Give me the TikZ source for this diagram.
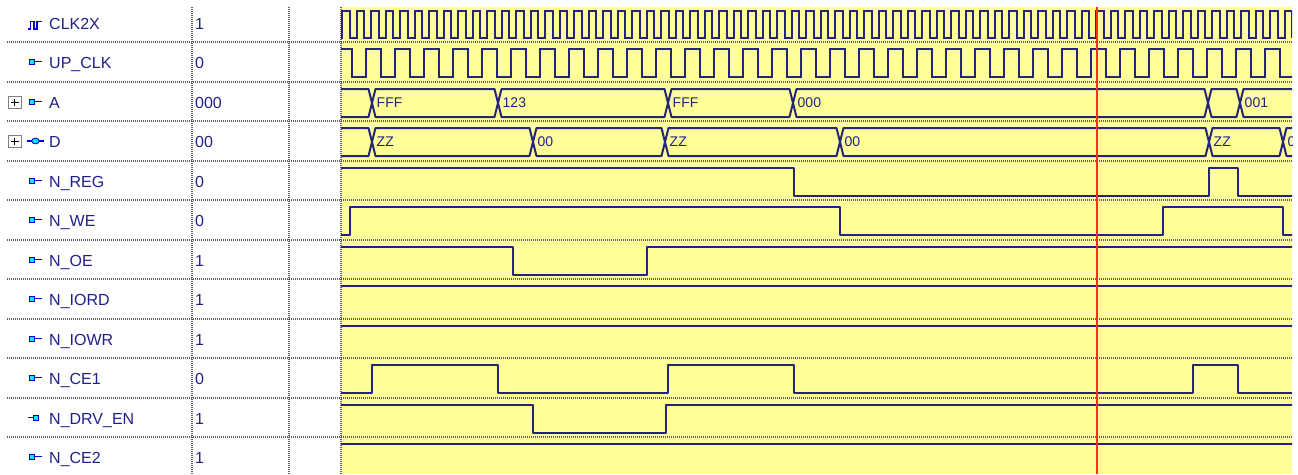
\documentclass[tikz,border=0pt]{standalone}
\usepackage{fontspec}
\setmainfont{Liberation Sans}
\usepackage{tikz}
\usetikzlibrary{positioning}
\usepackage{xcolor}
\definecolor{wavebg}{RGB}{255,255,153}
\definecolor{waveline}{RGB}{36,36,120}
\definecolor{labelblue}{RGB}{32,32,140}
\definecolor{portcyan}{RGB}{0,235,255}
\definecolor{portblue}{RGB}{0,0,215}
\definecolor{sepgray}{RGB}{95,95,95}
\definecolor{cursorred}{RGB}{255,45,25}
\newcommand{\busval}[4]{%
  \draw[wave] (#2,21) -- ({#2+3.5},7) -- ({#3-3.5},7) -- (#3,21) -- ({#3-3.5},35) -- ({#2+3.5},35) -- cycle;
  \node[buslbl] (#1#2) at ({#2+4.5},25) {#4};}

\begin{document}
\begin{tikzpicture}[x=1pt, y=-1pt,
  sigrow/.style={yshift={-round(2.5+39.5*#1)}},
  signame/.style={anchor=base west, inner sep=0pt, text=labelblue, font=\fontsize{16}{16}\selectfont},
  buslbl/.style={anchor=base west, inner sep=0pt, text=labelblue, font=\fontsize{14}{14}\selectfont},
  wave/.style={draw=waveline, line width=2pt, line join=round},
  sepline/.style={draw=sepgray, line width=2pt, dash pattern=on 1pt off 1pt},
  inport/.style={fill=portcyan, draw=portblue, line width=0.9pt},
  portwire/.style={draw=portblue, line width=1.3pt},
  expbox/.style={fill=white, draw=gray, line width=1pt},
  cursor/.style={draw=cursorred, line width=2pt}
]
\useasboundingbox (0,0) rectangle (1298,474);
\fill[white] (0,0) rectangle (1298,474);
\fill[wavebg] (341,7) rectangle (1292,474);

\foreach \i in {1,...,11} {
  \pgfmathsetmacro\yy{round(2.5+39.5*\i)}
  \draw[sepline] (7,\yy) -- (1292,\yy);
}
\foreach \xx in {192,289,341}
  \draw[sepline] (\xx,7) -- (\xx,474);

\foreach \nm/\val [count=\i from 0] in {CLK2X/1, UP\_CLK/0, A/000, D/00, N\_REG/0, N\_WE/0,
    N\_OE/1, N\_IORD/1, N\_IOWR/1, N\_CE1/0, N\_DRV\_EN/1, N\_CE2/1} {
  \begin{scope}[sigrow=\i]
    \node[signame] (name\i) at (49,26.5) {\nm};
    \node[signame] (val\i) at (195,26.5) {\val};
  \end{scope}
}

\begin{scope}[sigrow=0]
  \draw[portwire, line join=miter] (28,26) -- (30.5,26) -- (30.5,18.5) -- (34,18.5) -- (34,26) -- (37,26) -- (37,18.5) -- (41.5,18.5);
\end{scope}
\foreach \i in {1,2,4,5,6,7,8,9,11} {
  \begin{scope}[sigrow=\i]
    \draw[portwire] (34,19.5) -- (41.5,19.5);
    \filldraw[inport] (29.5,17) rectangle (34.5,22);
  \end{scope}
}
\begin{scope}[sigrow=3]
  \draw[portwire] (27,20) -- (44,20);
  \filldraw[inport] (35.5,20) ellipse (3.8 and 2.8);
\end{scope}
\begin{scope}[sigrow=10]
  \draw[portwire] (28,19.5) -- (34,19.5);
  \filldraw[inport] (33.5,17) rectangle (38.5,22);
\end{scope}
\foreach \i in {2,3} {
  \begin{scope}[sigrow=\i]
    \filldraw[expbox] (8.5,14.5) rectangle (21,26.5);
    \draw[black, line width=1.2pt] (11,20.5) -- (18.5,20.5) (14.75,16.75) -- (14.75,24.25);
  \end{scope}
}

\begin{scope}
  \clip (341,7) rectangle (1292,474);
  \begin{scope}[sigrow=0]
    \draw[wave, line join=miter] (341,35) \foreach \k in {0,...,65} {
      -- ({342.25+14.5*\k},35) -- ({342.25+14.5*\k},8) -- ({349.5+14.5*\k},8) -- ({349.5+14.5*\k},35) };
  \end{scope}
  \begin{scope}[sigrow=1]
    \draw[wave, line join=miter] (341,7) \foreach \k in {0,...,32} {
      -- ({351.5+29*\k},7) -- ({351.5+29*\k},35) -- ({366+29*\k},35) -- ({366+29*\k},7) };
  \end{scope}
  \begin{scope}[sigrow=2]
    \busval{a}{330}{372}{}
    \busval{a}{372}{498}{FFF}
    \busval{a}{498}{668}{123}
    \busval{a}{668}{793}{FFF}
    \busval{a}{793}{1208}{000}
    \busval{a}{1208}{1240}{}
    \busval{a}{1240}{1310}{001}
  \end{scope}
  \begin{scope}[sigrow=3]
    \busval{d}{330}{372}{}
    \busval{d}{372}{533}{ZZ}
    \busval{d}{533}{665}{00}
    \busval{d}{665}{840}{ZZ}
    \busval{d}{840}{1209}{00}
    \busval{d}{1209}{1283}{ZZ}
    \busval{d}{1283}{1320}{00}
  \end{scope}
  \begin{scope}[sigrow=4]
    \draw[wave] (341,7) -- (794,7) -- (794,35) -- (1209,35) -- (1209,7) -- (1238,7) -- (1238,35) -- (1300,35);
  \end{scope}
  \begin{scope}[sigrow=5]
    \draw[wave] (341,35) -- (350,35) -- (350,7) -- (840,7) -- (840,35) -- (1163,35) -- (1163,7) -- (1283,7) -- (1283,35) -- (1300,35);
  \end{scope}
  \begin{scope}[sigrow=6]
    \draw[wave] (341,7) -- (513,7) -- (513,35) -- (647,35) -- (647,7) -- (1300,7);
  \end{scope}
  \foreach \i in {7,8,11} {
    \begin{scope}[sigrow=\i]
      \draw[wave] (341,7) -- (1300,7);
    \end{scope}
  }
  \begin{scope}[sigrow=9]
    \draw[wave] (341,35) -- (372,35) -- (372,7) -- (498,7) -- (498,35) -- (668,35) -- (668,7) -- (794,7) -- (794,35) -- (1193,35) -- (1193,7) -- (1238,7) -- (1238,35) -- (1300,35);
  \end{scope}
  \begin{scope}[sigrow=10]
    \draw[wave] (341,7) -- (533,7) -- (533,35) -- (666,35) -- (666,7) -- (1300,7);
  \end{scope}
\end{scope}

\draw[cursor] (1097,7) -- (1097,474);
\end{tikzpicture}
\end{document}
